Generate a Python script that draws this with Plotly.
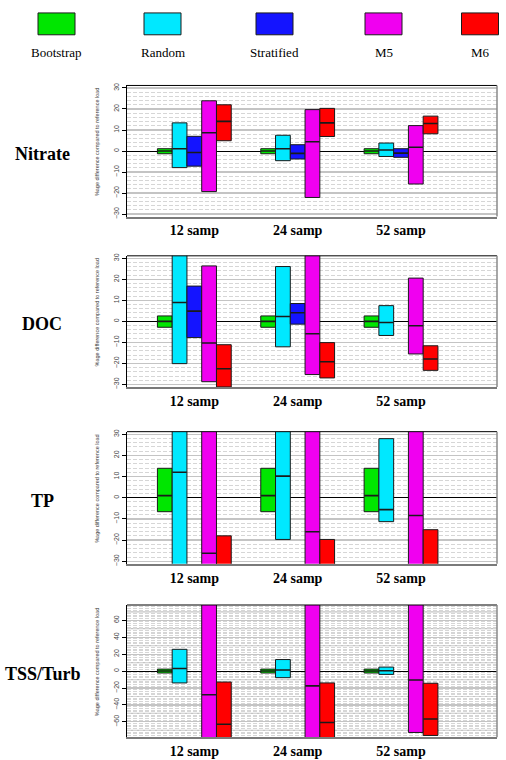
import plotly.graph_objects as go
from plotly.subplots import make_subplots

# ---------------- data ----------------
methods = ["Bootstrap", "Random", "Stratified", "M5", "M6"]
groups = ["12 samp", "24 samp", "52 samp"]
panels = ["Nitrate", "DOC", "TP", "TSS/Turb"]
y_title = "%age difference compared to reference load"

# values per method (rows) x sample group (cols); None = not shown
nitrate_lower = [[-1.3, -1.3, -1.3], [-7.9, -4.6, -2.6], [-7.2, -3.8, -3.0], [-19.3, -22.1, -15.7], [4.9, 6.9, 8.2]]
nitrate_median = [[0, 0, 0], [1.1, 1.1, 0.5], [-0.7, -1.1, -1.0], [8.7, 4.4, 1.8], [14.1, 13.4, 13.1]]
nitrate_upper = [[1.1, 1.1, 1.1], [13.4, 7.5, 3.8], [7.0, 3.0, 1.1], [23.9, 19.7, 12.1], [22.0, 20.3, 16.6]]

doc_lower = [[-2.8, -2.8, -2.8], [-20.1, -12.1, -6.7], [-7.7, -1.3, None], [-28.7, -25.3, -15.5], [-31.2, -26.9, -23.3]]
doc_median = [[0, 0, 0], [9.0, 2.3, -0.5], [4.9, 4.1, None], [-10.3, -5.9, -2.1], [-22.5, -19.2, -17.9]]
doc_upper = [[2.6, 2.6, 2.6], [40.0, 26.1, 7.5], [16.8, 8.5, None], [26.4, 31.5, 20.6], [-11.1, -10.1, -11.6]]

tp_lower = [[-6.6, -6.6, -6.6], [-40.0, -19.7, -11.3], [None, None, None], [-40.0, -40.0, -40.0], [-45.0, -45.0, -45.0]]
tp_median = [[1.0, 1.0, 1.0], [12.0, 10.2, -5.6], [None, None, None], [-26.2, -16.1, -8.4], [-38.0, -38.0, -38.0]]
tp_upper = [[13.9, 13.9, 13.9], [45.0, 45.0, 27.9], [None, None, None], [45.0, 45.0, 45.0], [-18.0, -19.7, -15.1]]

tss_lower = [[-2.3, -2.3, -2.3], [-14.0, -7.8, -3.9], [None, None, None], [-110.0, -110.0, -72.5], [-100.0, -100.0, -76.0]]
tss_median = [[0, 0, 0], [3.1, 1.2, 0.3], [None, None, None], [-28.0, -17.5, -10.5], [-62.7, -60.8, -56.5]]
tss_upper = [[2.3, 2.3, 2.3], [25.7, 13.6, 4.7], [None, None, None], [120.0, 120.0, 120.0], [-12.9, -14.0, -14.4]]

panel_data = [
    (nitrate_lower, nitrate_median, nitrate_upper),
    (doc_lower, doc_median, doc_upper),
    (tp_lower, tp_median, tp_upper),
    (tss_lower, tss_median, tss_upper),
]
y_limits = [30, 30, 30, 75]
y_label_step = [10, 10, 10, 20]

# ---------------- style ----------------
colors = ["#00e600", "#00e8ff", "#1414ff", "#f000f0", "#ff0000"]
W, H = 506, 760
serif = "Liberation Serif, Times New Roman, serif"
sans = "Liberation Sans, Arial, sans-serif"
panel_px = [(83, 215), (254.5, 386.5), (431.5, 564.5), (606, 739)]  # top, bottom in px
x_px = (127, 497)
group_gap = 7
x_range = [-4.56, 20.5]

fig = make_subplots(rows=4, cols=1)

for p, (lo, md, up) in enumerate(panel_data):
    row = p + 1
    for m, meth in enumerate(methods):
        xs, bases, heights, meds = [], [], [], []
        for g in range(len(groups)):
            if lo[m][g] is None:
                continue
            x = g * group_gap + (m - 2)
            xs.append(x)
            bases.append(lo[m][g])
            heights.append(up[m][g] - lo[m][g])
            meds.append(md[m][g])
        if not xs:
            continue
        fig.add_trace(go.Bar(x=xs, y=heights, base=bases, width=1,
                             marker=dict(color=colors[m], line=dict(color="#1a1a1a", width=1)),
                             name=meth, showlegend=False), row=row, col=1)
        fig.add_trace(go.Scatter(x=xs, y=meds, mode="markers",
                                 marker=dict(symbol="line-ew", size=10.3,
                                             line=dict(width=1.6, color="#1a1a1a")),
                                 showlegend=False, hoverinfo="skip"), row=row, col=1)

    lim = y_limits[p] * 1.04
    top, bot = panel_px[p]
    dom = [1 - bot / H, 1 - top / H]
    step = y_label_step[p]
    fig.update_yaxes(row=row, col=1, domain=dom, range=[-lim, lim],
                     tickmode="linear", dtick=step, tick0=0, tickangle=-90,
                     tickfont=dict(family=sans, size=7, color="#444"),
                     ticks="outside", ticklen=4, tickcolor="#000", tickwidth=1,
                     showline=True, linecolor="#000", linewidth=1,
                     showgrid=True, gridcolor="#c4c4c4", gridwidth=1.2,
                     zeroline=True, zerolinecolor="#000", zerolinewidth=1,
                     minor=dict(dtick=2, tick0=0, showgrid=True, gridcolor="#d6d6d6",
                                griddash="4px,2px", gridwidth=1),
                     fixedrange=True)
    fig.update_xaxes(row=row, col=1, domain=[x_px[0] / W, x_px[1] / W], range=x_range,
                     tickmode="array", tickvals=[g * group_gap for g in range(len(groups))],
                     ticktext=[f"<b>{t}</b>" for t in groups], ticks="", showgrid=False, zeroline=False,
                     tickfont=dict(family=serif, size=14, color="#000"),
                     showline=True, linecolor="#7a7a7a", linewidth=2, fixedrange=True)

    xa = "x" if p == 0 else f"x{row}"
    ya = "y" if p == 0 else f"y{row}"
    # extra solid grid lines at odd tens where tick labels step by 20
    if step == 20:
        for v in range(-70, 80, 20):
            fig.add_shape(type="line", xref=f"{xa} domain", yref=ya, x0=0, x1=1, y0=v, y1=v,
                          line=dict(color="#c4c4c4", width=1.2), layer="below")
    # top (black) and right (gray) frame
    fig.add_shape(type="line", xref=f"{xa} domain", yref=f"{ya} domain", x0=0, x1=1, y0=1, y1=1,
                  line=dict(color="#000", width=1))
    fig.add_shape(type="line", xref=f"{xa} domain", yref=f"{ya} domain", x0=1, x1=1, y0=0, y1=1,
                  line=dict(color="#8a8a8a", width=1.5))
    # row label
    mid = (top + bot) / 2
    fig.add_annotation(text=f"<b>{panels[p]}</b>", xref="paper", yref="paper",
                       x=42 / W, y=1 - (mid + 3) / H, xanchor="center", yanchor="middle",
                       showarrow=False, font=dict(family=serif, size=18, color="#000"))
    # y axis title
    fig.add_annotation(text=y_title, xref="paper", yref="paper", textangle=-90,
                       x=97 / W, y=1 - (mid - 9) / H, xanchor="center", yanchor="middle",
                       showarrow=False, font=dict(family=sans, size=5.5, color="#444"))

# legend (top row)
leg_cx = [56.5, 162.5, 274.5, 383.5, 480]
for m, meth in enumerate(methods):
    cx = leg_cx[m]
    fig.add_shape(type="rect", xref="paper", yref="paper",
                  x0=(cx - 18.5) / W, x1=(cx + 18.5) / W, y0=1 - 32 / H, y1=1 - 10 / H,
                  fillcolor=colors[m], line=dict(color="#1a1a1a", width=1))
    fig.add_annotation(text=meth, xref="paper", yref="paper", x=cx / W, y=1 - 50 / H,
                       xanchor="center", yanchor="middle",
                       showarrow=False, font=dict(family=serif, size=13, color="#000"))

fig.update_layout(width=W, height=H, margin=dict(l=0, r=0, t=0, b=0),
                  paper_bgcolor="white", plot_bgcolor="white", barmode="overlay",
                  showlegend=False)

fig.write_html("out.html", config={"displayModeBar": False, "staticPlot": True},
               post_script="document.body.style.margin='0px';document.body.style.overflow='hidden';")
